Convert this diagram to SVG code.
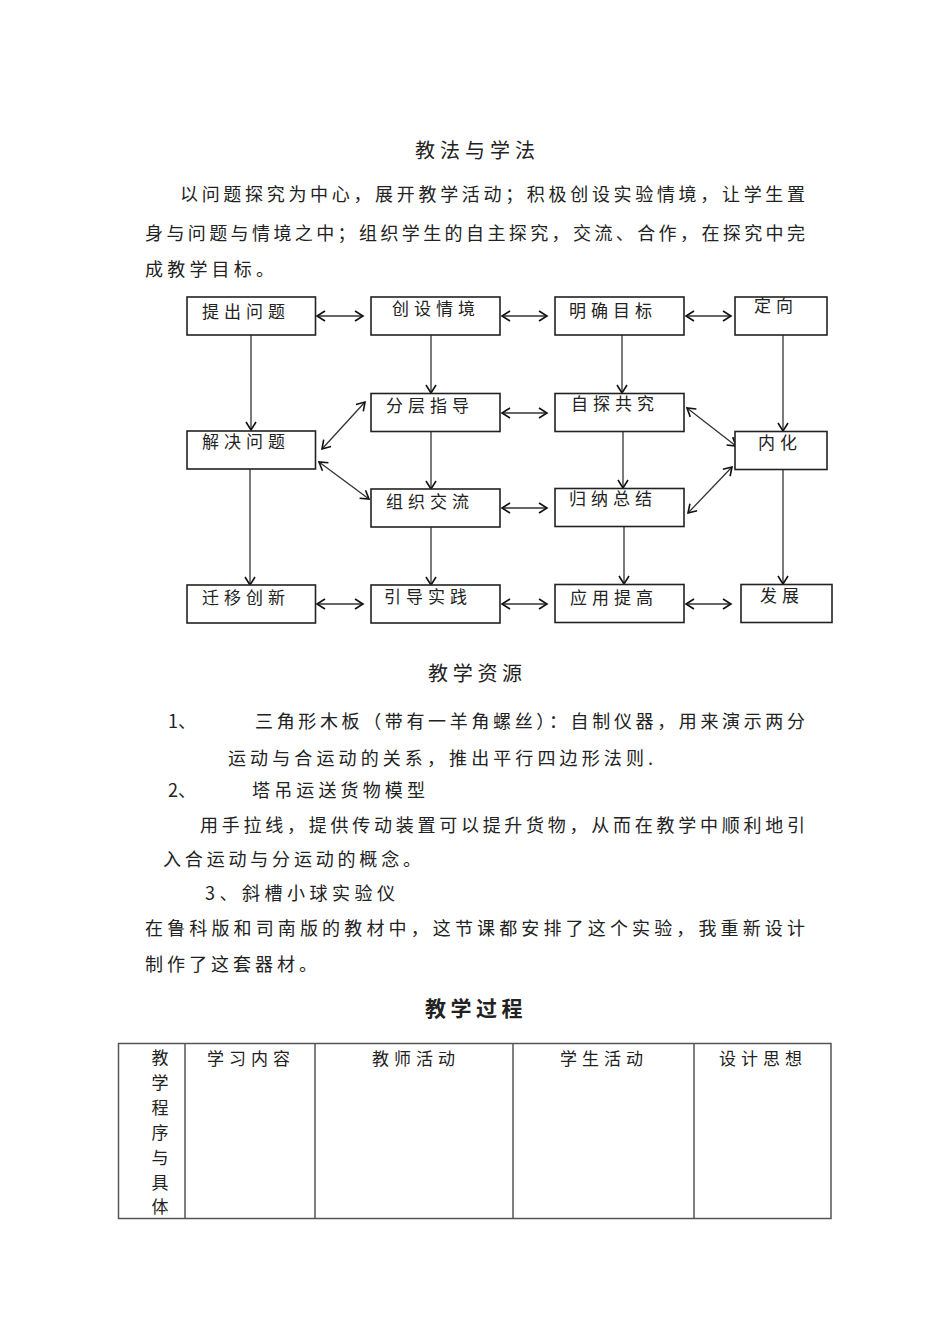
<svg xmlns="http://www.w3.org/2000/svg" width="950" height="1344" viewBox="0 0 950 1344">
<defs>
<style>
.t{font-family:"Noto Sans CJK SC","Noto Sans",sans-serif;fill:#222;}
.lbl{font-size:17px;letter-spacing:5px;}
.p{font-size:18px;}
.h{font-size:20px;letter-spacing:5px;}
.hb{font-size:21px;letter-spacing:4.5px;font-weight:bold;}
.box{fill:#fff;stroke:#222;stroke-width:1.6;}
.c{stroke:#333;stroke-width:1.3;fill:none;}
.tb{stroke:#555;stroke-width:1.5;fill:none;}
</style>
<marker id="ah" markerUnits="userSpaceOnUse" markerWidth="14" markerHeight="14" refX="9" refY="6" orient="auto-start-reverse">
<path d="M1,1 L9,6 L1,11" fill="none" stroke="#111" stroke-width="1.6"/>
</marker>
</defs>
<rect width="950" height="1344" fill="#fff"/>

<text class="t h" x="415" y="158">教法与学法</text>
<text class="t p" x="180" y="201" textLength="625" lengthAdjust="spacing">以问题探究为中心，展开教学活动；积极创设实验情境，让学生置</text>
<text class="t p" x="145" y="240" textLength="660" lengthAdjust="spacing">身与问题与情境之中；组织学生的自主探究，交流、合作，在探究中完</text>
<text class="t p" x="145" y="276" textLength="129" lengthAdjust="spacing">成教学目标。</text>

<g id="connectors">
<line class="c" x1="317" y1="316" x2="363" y2="316" marker-start="url(#ah)" marker-end="url(#ah)"/>
<line class="c" x1="502" y1="316" x2="547" y2="316" marker-start="url(#ah)" marker-end="url(#ah)"/>
<line class="c" x1="686" y1="316" x2="731" y2="316" marker-start="url(#ah)" marker-end="url(#ah)"/>
<line class="c" x1="502" y1="413" x2="547" y2="413" marker-start="url(#ah)" marker-end="url(#ah)"/>
<line class="c" x1="502" y1="508" x2="547" y2="508" marker-start="url(#ah)" marker-end="url(#ah)"/>
<line class="c" x1="317" y1="604" x2="363" y2="604" marker-start="url(#ah)" marker-end="url(#ah)"/>
<line class="c" x1="502" y1="604" x2="547" y2="604" marker-start="url(#ah)" marker-end="url(#ah)"/>
<line class="c" x1="686" y1="604" x2="731" y2="604" marker-start="url(#ah)" marker-end="url(#ah)"/>
<line class="c" x1="251" y1="335" x2="251" y2="430" marker-end="url(#ah)"/>
<line class="c" x1="431" y1="335" x2="431" y2="393" marker-end="url(#ah)"/>
<line class="c" x1="431" y1="432" x2="431" y2="489" marker-end="url(#ah)"/>
<line class="c" x1="431" y1="527" x2="431" y2="585" marker-end="url(#ah)"/>
<line class="c" x1="250" y1="469" x2="250" y2="585" marker-end="url(#ah)"/>
<line class="c" x1="622" y1="335" x2="622" y2="393" marker-end="url(#ah)"/>
<line class="c" x1="623" y1="432" x2="623" y2="488" marker-end="url(#ah)"/>
<line class="c" x1="624" y1="527" x2="624" y2="584" marker-end="url(#ah)"/>
<line class="c" x1="783" y1="335" x2="783" y2="431" marker-end="url(#ah)"/>
<line class="c" x1="783" y1="469" x2="783" y2="584" marker-end="url(#ah)"/>
<line class="c" x1="322" y1="449" x2="365" y2="402" marker-start="url(#ah)" marker-end="url(#ah)"/>
<line class="c" x1="319" y1="462" x2="369" y2="499" marker-start="url(#ah)" marker-end="url(#ah)"/>
<line class="c" x1="687" y1="408" x2="736" y2="446" marker-start="url(#ah)" marker-end="url(#ah)"/>
<line class="c" x1="688" y1="513" x2="732" y2="467" marker-start="url(#ah)" marker-end="url(#ah)"/>
</g>

<g id="n1"><rect class="box" x="187" y="297" width="128.5" height="38"/><text class="t lbl" x="202" y="318">提出问题</text></g>
<g id="n2"><rect class="box" x="371" y="297" width="129" height="38"/><text class="t lbl" x="392" y="315">创设情境</text></g>
<g id="n3"><rect class="box" x="555" y="297" width="129" height="38"/><text class="t lbl" x="569" y="317">明确目标</text></g>
<g id="n4"><rect class="box" x="735" y="297" width="92" height="38"/><text class="t lbl" x="754" y="312">定向</text></g>
<g id="n5"><rect class="box" x="371" y="393.5" width="129" height="38"/><text class="t lbl" x="386" y="412">分层指导</text></g>
<g id="n6"><rect class="box" x="555" y="393.5" width="129" height="38"/><text class="t lbl" x="571" y="410">自探共究</text></g>
<g id="n7"><rect class="box" x="187" y="431" width="128.5" height="38"/><text class="t lbl" x="202" y="448">解决问题</text></g>
<g id="n8"><rect class="box" x="735" y="431.5" width="92" height="38"/><text class="t lbl" x="758" y="449">内化</text></g>
<g id="n9"><rect class="box" x="371" y="489" width="129" height="38"/><text class="t lbl" x="386" y="508">组织交流</text></g>
<g id="n10"><rect class="box" x="555" y="488.5" width="129" height="38"/><text class="t lbl" x="569" y="505">归纳总结</text></g>
<g id="n11"><rect class="box" x="187" y="585" width="128.5" height="38"/><text class="t lbl" x="202" y="604">迁移创新</text></g>
<g id="n12"><rect class="box" x="371" y="585" width="129" height="38"/><text class="t lbl" x="384" y="603">引导实践</text></g>
<g id="n13"><rect class="box" x="555" y="584.5" width="129" height="38"/><text class="t lbl" x="570" y="604">应用提高</text></g>
<g id="n14"><rect class="box" x="741" y="584.5" width="91" height="38"/><text class="t lbl" x="760" y="602">发展</text></g>

<text class="t h" x="428" y="681" style="letter-spacing:4.7px">教学资源</text>
<text class="t p" x="168" y="728">1、</text>
<text class="t p" x="255" y="728" textLength="550" lengthAdjust="spacing">三角形木板（带有一羊角螺丝）：自制仪器，用来演示两分</text>
<text class="t p" x="228" y="765" textLength="425" lengthAdjust="spacing">运动与合运动的关系，推出平行四边形法则.</text>
<text class="t p" x="168" y="797">2、</text>
<text class="t p" x="252" y="797" textLength="173" lengthAdjust="spacing">塔吊运送货物模型</text>
<text class="t p" x="200" y="832" textLength="605" lengthAdjust="spacing">用手拉线，提供传动装置可以提升货物，从而在教学中顺利地引</text>
<text class="t p" x="163" y="866" textLength="258" lengthAdjust="spacing">入合运动与分运动的概念。</text>
<text class="t p" x="205" y="900" textLength="190" lengthAdjust="spacing">3、斜槽小球实验仪</text>
<text class="t p" x="145" y="935" textLength="660" lengthAdjust="spacing">在鲁科版和司南版的教材中，这节课都安排了这个实验，我重新设计</text>
<text class="t p" x="145" y="971" textLength="172" lengthAdjust="spacing">制作了这套器材。</text>

<text class="t hb" x="425" y="1016">教学过程</text>

<g id="table">
<rect class="tb" x="118.5" y="1043.5" width="712.5" height="175"/>
<line class="tb" x1="185" y1="1043.5" x2="185" y2="1218.5"/>
<line class="tb" x1="315" y1="1043.5" x2="315" y2="1218.5"/>
<line class="tb" x1="513" y1="1043.5" x2="513" y2="1218.5"/>
<line class="tb" x1="694" y1="1043.5" x2="694" y2="1218.5"/>
<text class="t lbl" x="207" y="1065">学习内容</text>
<text class="t lbl" x="372" y="1065">教师活动</text>
<text class="t lbl" x="560" y="1065">学生活动</text>
<text class="t lbl" x="719" y="1065">设计思想</text>
<g class="t" style="font-size:17px" text-anchor="middle">
<text x="160" y="1064">教</text>
<text x="160" y="1089">学</text>
<text x="160" y="1114">程</text>
<text x="160" y="1139">序</text>
<text x="160" y="1164">与</text>
<text x="160" y="1189">具</text>
<text x="160" y="1213">体</text>
</g>
</g>
</svg>
